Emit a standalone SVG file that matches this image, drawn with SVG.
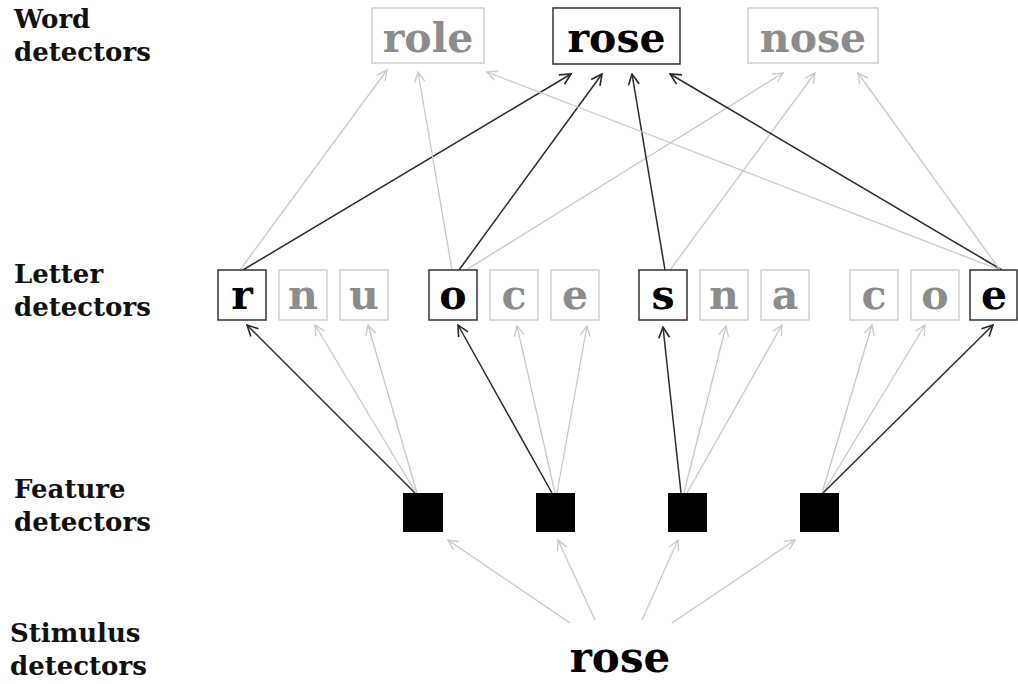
<svg xmlns="http://www.w3.org/2000/svg" width="1018" height="684" viewBox="0 0 1018 684">
<style>
.lbl{font-family:"DejaVu Serif","Liberation Serif",serif;font-weight:bold;font-size:26px;fill:#111}
.w{font-family:"DejaVu Serif","Liberation Serif",serif;font-weight:bold;font-size:41px;text-anchor:middle}
.l{font-family:"DejaVu Serif","Liberation Serif",serif;font-weight:bold;font-size:41px;text-anchor:middle}
.on rect{fill:#fff;stroke:#333;stroke-width:1.5}
.on text{fill:#000}
.off rect{fill:#fff;stroke:#cfcfcf;stroke-width:1.5}
.off text{fill:#8c8c8c}
.g{stroke:#c8c8c8;stroke-width:1.3;fill:none;marker-end:url(#ag)}
.k{stroke:#2a2a2a;stroke-width:1.5;fill:none;marker-end:url(#ak)}
</style>
<defs>
<marker id="ag" viewBox="0 0 12 12" refX="11" refY="6" markerWidth="12" markerHeight="12" markerUnits="userSpaceOnUse" orient="auto"><path d="M1,1 L11,6 L1,11" fill="none" stroke="#c8c8c8" stroke-width="1.3"/></marker>
<marker id="ak" viewBox="0 0 12 12" refX="11" refY="6" markerWidth="13" markerHeight="13" markerUnits="userSpaceOnUse" orient="auto"><path d="M1,1 L11,6 L1,11" fill="none" stroke="#2a2a2a" stroke-width="1.5"/></marker>
</defs>
<rect width="1018" height="684" fill="#fff"/>
<g id="labels">
<text class="lbl" x="14" y="28">Word</text><text class="lbl" x="14" y="61">detectors</text>
<text class="lbl" x="14" y="283">Letter</text><text class="lbl" x="14" y="316">detectors</text>
<text class="lbl" x="14" y="498">Feature</text><text class="lbl" x="14" y="531">detectors</text>
<text class="lbl" x="10" y="642">Stimulus</text><text class="lbl" x="10" y="675">detectors</text>
</g>
<g id="connectors">
<line class="g" x1="240" y1="270" x2="387" y2="70"/>
<line class="k" x1="243" y1="270" x2="571" y2="74"/>
<line class="g" x1="452" y1="270" x2="418" y2="72"/>
<line class="k" x1="459" y1="270" x2="602" y2="74"/>
<line class="g" x1="466" y1="270" x2="783" y2="73"/>
<line class="k" x1="665" y1="270" x2="632" y2="74"/>
<line class="g" x1="670" y1="270" x2="815" y2="73"/>
<line class="g" x1="1000" y1="270" x2="487" y2="72"/>
<line class="k" x1="1002" y1="270" x2="670" y2="74"/>
<line class="g" x1="1000" y1="270" x2="858" y2="73"/>
<line class="k" x1="415" y1="493" x2="247" y2="325"/>
<line class="g" x1="416" y1="493" x2="315" y2="325"/>
<line class="g" x1="417" y1="493" x2="368" y2="325"/>
<line class="k" x1="552" y1="493" x2="458" y2="325"/>
<line class="g" x1="555" y1="493" x2="517" y2="326"/>
<line class="g" x1="557" y1="493" x2="587" y2="326"/>
<line class="k" x1="681" y1="493" x2="663" y2="327"/>
<line class="g" x1="684" y1="493" x2="726" y2="326"/>
<line class="g" x1="687" y1="493" x2="782" y2="325"/>
<line class="g" x1="822" y1="493" x2="872" y2="325"/>
<line class="g" x1="823" y1="493" x2="925" y2="325"/>
<line class="k" x1="823" y1="493" x2="993" y2="325"/>
<line class="g" x1="570" y1="623" x2="448" y2="540"/>
<line class="g" x1="595" y1="620" x2="558" y2="540"/>
<line class="g" x1="642" y1="620" x2="678" y2="540"/>
<line class="g" x1="672" y1="623" x2="795" y2="540"/>
</g>
<g id="word-role" class="off"><rect x="372" y="8" width="112" height="55"/><text class="w" x="428" y="52">role</text></g>
<g id="word-rose" class="on"><rect x="553" y="8" width="127" height="56"/><text class="w" x="616.5" y="52">rose</text></g>
<g id="word-nose" class="off"><rect x="748" y="8" width="130" height="55"/><text class="w" x="813" y="52">nose</text></g>
<g id="letter-r" class="on"><rect x="218" y="270" width="48" height="50"/><text class="l" x="242" y="309">r</text></g>
<g id="letter-n1" class="off"><rect x="279" y="270" width="48" height="50"/><text class="l" x="303" y="309">n</text></g>
<g id="letter-u" class="off"><rect x="340" y="270" width="48" height="50"/><text class="l" x="364" y="309">u</text></g>
<g id="letter-o1" class="on"><rect x="429" y="270" width="48" height="50"/><text class="l" x="453" y="309">o</text></g>
<g id="letter-c1" class="off"><rect x="490" y="270" width="48" height="50"/><text class="l" x="514" y="309">c</text></g>
<g id="letter-e1" class="off"><rect x="551" y="270" width="48" height="50"/><text class="l" x="575" y="309">e</text></g>
<g id="letter-s" class="on"><rect x="639" y="270" width="48" height="50"/><text class="l" x="663" y="309">s</text></g>
<g id="letter-n2" class="off"><rect x="700" y="270" width="48" height="50"/><text class="l" x="724" y="309">n</text></g>
<g id="letter-a" class="off"><rect x="761" y="270" width="48" height="50"/><text class="l" x="785" y="309">a</text></g>
<g id="letter-c2" class="off"><rect x="850" y="270" width="48" height="50"/><text class="l" x="874" y="309">c</text></g>
<g id="letter-o2" class="off"><rect x="911" y="270" width="48" height="50"/><text class="l" x="935" y="309">o</text></g>
<g id="letter-e2" class="on"><rect x="970" y="270" width="47" height="50"/><text class="l" x="994" y="309">e</text></g>
<g id="feature-1"><rect x="403" y="493" width="40" height="39" fill="#000"/></g>
<g id="feature-2"><rect x="536" y="493" width="39" height="39" fill="#000"/></g>
<g id="feature-3"><rect x="668" y="493" width="39" height="39" fill="#000"/></g>
<g id="feature-4"><rect x="800" y="493" width="39" height="39" fill="#000"/></g>
<g id="stimulus"><text class="w" x="620" y="672" style="font-size:42px;fill:#000">rose</text></g>
</svg>
